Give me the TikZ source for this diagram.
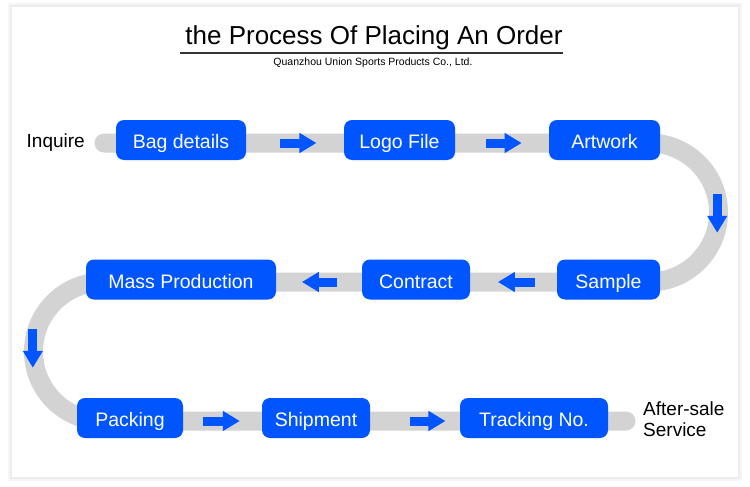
\documentclass[tikz,border=0pt]{standalone}
\usepackage{fontspec}
\setmainfont{Liberation Sans}
\usetikzlibrary{positioning, calc, arrows.meta}

\definecolor{stepblue}{RGB}{0,85,255}
\definecolor{trackgray}{RGB}{211,211,211}

\begin{document}
\begin{tikzpicture}[x=1pt, y=-1pt,
        box/.style={rectangle, fill=stepblue, text=white, rounded corners=8pt, minimum height=40pt, inner sep=0pt, text height=17.5pt, text depth=0pt, font=\fontsize{19.5}{22}\selectfont},
        track/.style={draw=trackgray, line width=19pt, line cap=round},
        flow/.style={-{Triangle[length=17pt, width=19pt]}, line width=9pt, draw=stepblue},
        sidetext/.style={inner sep=0pt, align=left, font=\fontsize{19}{21.5}\selectfont}
    ]
        \useasboundingbox (0,0) rectangle (750,487);
        % card with soft shadow
        \fill[white] (0,0) rectangle (750,487);
        \fill[black!4] (8,3) rectangle (742,481);
        \fill[black!7] (10,5) rectangle (740,479);
        \fill[white] (12,7) rectangle (738,477);

        % heading
        \node[font=\fontsize{26}{30}\selectfont, inner sep=0pt] (title) at (374,38) {the Process Of Placing An Order};
        \draw[line width=2.5pt, black!80] (180,53) -- (563,53);
        \node[font=\fontsize{10.5}{12}\selectfont, inner sep=0pt] (company) at (373,63) {Quanzhou Union Sports Products Co., Ltd.};

        % track
        \coordinate (start) at (104,143);
        \coordinate (finish) at (626,421);
        \draw[track] (start) -- (649,143) arc[start angle=-90, end angle=90, radius=69.5]
            -- (103,282) arc[start angle=-90, end angle=-270, radius=69.5] -- (finish);

        % steps
        \node[box, minimum width=130pt] (bag) at (181,140) {Bag details};
        \node[box, minimum width=111pt] (logo) at (399.5,140) {Logo File};
        \node[box, minimum width=111pt] (art) at (604.5,140) {Artwork};
        \node[box, minimum width=103pt] (sample) at (608.5,279.5) {Sample};
        \node[box, minimum width=108pt] (contract) at (416,279.5) {Contract};
        \node[box, minimum width=190pt] (mass) at (181,279.5) {Mass Production};
        \node[box, minimum width=106pt] (packing) at (130,418) {Packing};
        \node[box, minimum width=108pt] (ship) at (316,418) {Shipment};
        \node[box, minimum width=148pt] (tracking) at (534,418) {Tracking No.};

        \node[sidetext, left=19pt of start] (inquire) {Inquire};
        \node[sidetext, right=17pt of finish, yshift=2pt] (service) {After-sale\\Service};

        \draw[flow] ($(bag.east)!0.35!(logo.west)+(0,3)$) -- ($(bag.east)!0.72!(logo.west)+(0,3)$);
        \draw[flow] ($(logo.east)!0.33!(art.west)+(0,3)$) -- ($(logo.east)!0.71!(art.west)+(0,3)$);
        \draw[flow] ($(art.east)!0.5!(sample.east)+(57,-16)$) -- ($(art.east)!0.5!(sample.east)+(57,23)$);
        \draw[flow] ($(sample.west)!0.25!(contract.east)+(0,2.5)$) -- ($(sample.west)!0.68!(contract.east)+(0,2.5)$);
        \draw[flow] ($(contract.west)!0.29!(mass.east)+(0,2.5)$) -- ($(contract.west)!0.70!(mass.east)+(0,2.5)$);
        \draw[flow] ($(mass.west)!0.5!(packing.west)+(-48.5,-20)$) -- ($(mass.west)!0.5!(packing.west)+(-48.5,19)$);
        \draw[flow] ($(packing.east)!0.25!(ship.west)+(0,3)$) -- ($(packing.east)!0.72!(ship.west)+(0,3)$);
        \draw[flow] ($(ship.east)!0.44!(tracking.west)+(0,3)$) -- ($(ship.east)!0.84!(tracking.west)+(0,3)$);
    \end{tikzpicture}
\end{document}
